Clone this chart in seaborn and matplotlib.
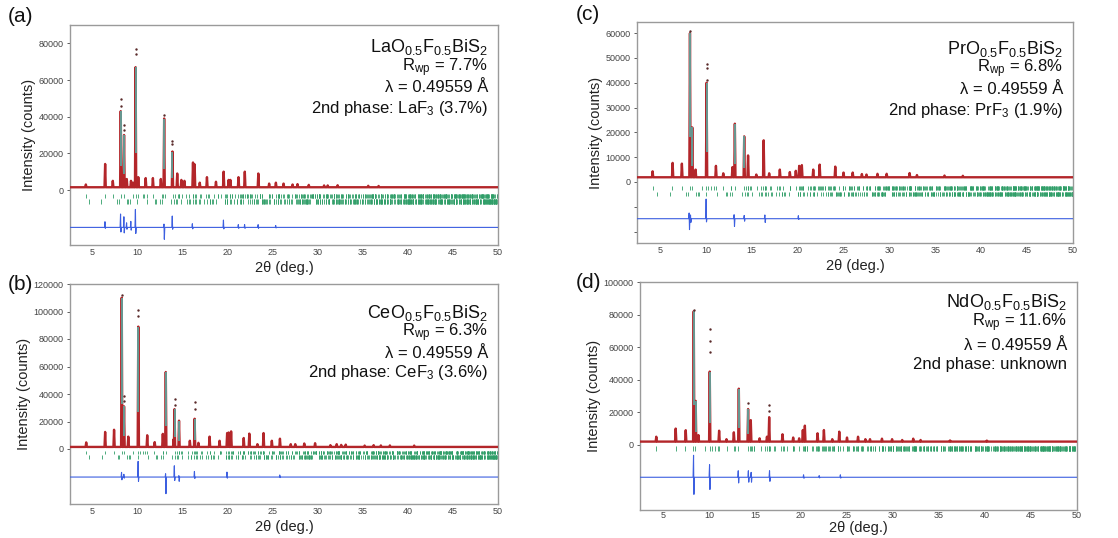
import numpy as np
import pandas as pd
import matplotlib
matplotlib.use("Agg")
import matplotlib.pyplot as plt
import seaborn as sns

sns.set_theme(style="white")
plt.rcParams["font.family"] = ["Liberation Sans", "DejaVu Sans"]
plt.rcParams["mathtext.fontset"] = "custom"
plt.rcParams["mathtext.rm"] = "Liberation Sans"
plt.rcParams["mathtext.default"] = "regular"

WAVELENGTH = 0.49559  # Angstrom

# ---------------- La sample (a) ----------------
la_peak_pos = [4.26, 6.40, 7.25, 8.13, 8.50, 8.80, 9.27, 9.50, 9.78, 10.08, 10.90, 11.70,
               12.58, 12.95, 13.87, 14.40, 14.86, 15.20, 16.15, 16.33, 16.90, 17.70, 18.70,
               19.55, 20.10, 20.30, 21.20, 21.90, 23.40, 24.60, 25.35, 26.20, 27.20, 27.75,
               29.00, 30.70, 31.10, 32.20, 35.60, 36.75]
la_peak_int = [3000, 14200, 5000, 43000, 30000, 6000, 5000, 4000, 67000, 7000, 6500, 6500,
               6000, 39000, 21000, 9000, 5500, 5000, 15000, 14000, 4000, 7000, 4500,
               10000, 5500, 5500, 7000, 10000, 9000, 3500, 4000, 3500, 3000, 3200,
               2800, 2500, 2500, 2600, 2300, 2200]
la_obs_x = [8.13, 8.13, 8.50, 8.50, 9.78, 9.78, 12.95, 13.87, 13.87]
la_obs_y = [49600, 46000, 35500, 33000, 76700, 74000, 41000, 27000, 25000]
la_diff_pos = [6.40, 8.13, 8.50, 8.80, 9.27, 9.78, 12.95, 13.87, 16.10, 19.55, 21.20, 21.90, 23.40, 25.35]
la_diff_up = [3100, 7300, 5800, 2500, 3300, 9800, 1800, 6200, 2000, 4000, 1500, 1500, 1500, 1000]
la_diff_dn = [500, 2500, 3000, 1000, 1500, 3300, 6500, 1000, 800, 800, 500, 500, 500, 300]
la_lattice = (4.08, 13.35)
laf3_lattice = (7.19, 7.35)

# ---------------- Ce sample (b) ----------------
ce_peak_pos = [4.30, 6.40, 7.39, 8.24, 8.50, 8.97, 10.08, 11.07, 11.90, 12.80, 13.13, 14.00,
               14.10, 14.60, 15.80, 16.33, 16.75, 17.99, 19.10, 19.94, 20.10, 20.38, 21.78,
               22.40, 23.30, 23.98, 24.90, 25.80, 27.00, 27.50, 28.50, 29.70, 31.40, 32.10,
               32.60, 33.10, 35.20, 36.20, 37.00, 38.00, 40.70]
ce_peak_int = [4800, 12400, 14000, 110000, 31000, 9000, 89000, 10000, 5000, 11000, 56000, 7000,
               29000, 20600, 6000, 22000, 4500, 9000, 6000, 11600, 12000, 12800, 8000,
               11200, 3500, 11600, 6000, 7500, 3500, 3500, 4000, 4200, 2800, 3500,
               3000, 3200, 2500, 2800, 2600, 2600, 2500]
ce_obs_x = [8.24, 8.50, 8.50, 10.08, 10.08, 14.10, 14.10, 16.33, 16.33]
ce_obs_y = [112000, 38800, 35000, 100800, 97000, 36400, 32000, 34000, 29000]
ce_diff_pos = [8.24, 8.50, 10.08, 13.13, 14.10, 14.60, 16.33, 19.94, 25.80]
ce_diff_up = [3400, 2000, 11400, 2400, 8200, 1000, 4100, 3600, 1500]
ce_diff_dn = [2000, 800, 3100, 12100, 2500, 3100, 1000, 800, 400]
ce_lattice = (4.02, 13.35)
cef3_lattice = (7.13, 7.29)

# ---------------- Pr sample (c) ----------------
pr_peak_pos = [4.20, 6.38, 7.39, 8.27, 8.52, 8.88, 10.08, 11.10, 11.90, 12.90, 13.16, 14.18,
               14.60, 15.50, 16.30, 16.90, 18.06, 19.15, 19.80, 20.17, 20.46, 21.70, 22.40,
               24.10, 25.00, 26.00, 27.00, 27.50, 28.70, 29.70, 32.20, 33.00, 36.00, 38.00]
pr_peak_int = [4300, 7700, 7400, 60000, 22000, 5000, 40000, 6500, 3500, 6000, 23500, 18400,
               10700, 3000, 16800, 3500, 5000, 4000, 4500, 6500, 6800, 5000, 7000,
               6200, 3800, 3800, 3200, 3000, 3300, 3300, 3600, 2800, 2600, 2500]
pr_obs_x = [8.27, 10.08, 10.08, 10.08]
pr_obs_y = [60700, 47500, 46000, 41000]
pr_diff_pos = [8.20, 8.35, 10.05, 13.10, 14.20, 16.45, 20.10]
pr_diff_up = [2300, 1500, 7900, 1600, 1300, 1500, 1200]
pr_diff_dn = [4400, 1500, 1300, 3100, 1000, 1500, 300]
pr_lattice = (4.01, 13.40)
prf3_lattice = (7.08, 7.24)

# ---------------- Nd sample (d) ----------------
nd_peak_pos = [4.27, 6.38, 7.47, 8.34, 8.55, 8.85, 10.08, 11.10, 11.90, 12.70, 13.24, 14.25,
               14.54, 15.50, 16.30, 16.54, 17.99, 19.15, 19.80, 20.20, 20.42, 21.80, 22.49,
               23.40, 24.16, 25.00, 26.20, 27.00, 27.50, 28.80, 29.90, 31.00, 32.20, 33.00,
               36.20, 40.20]
nd_peak_int = [5000, 10000, 9000, 82000, 27000, 6000, 45000, 8700, 3500, 7700, 34500, 22000,
               15200, 4000, 5000, 17000, 6500, 4500, 4000, 9100, 11800, 7100, 9100,
               3500, 8100, 4500, 5000, 3500, 3500, 3800, 3500, 3000, 3800, 3000,
               2700, 2600]
nd_obs_x = [8.34, 10.08, 10.08, 10.08, 14.25, 16.54, 16.54]
nd_obs_y = [82800, 71000, 63900, 56800, 25400, 24300, 21000]
nd_diff_pos = [8.34, 10.08, 13.20, 14.30, 14.60, 16.60, 20.30, 22.00, 24.30]
nd_diff_up = [13500, 7700, 4000, 4000, 3000, 4000, 1500, 1000, 1500]
nd_diff_dn = [10500, 7500, 3500, 3000, 3000, 2500, 600, 400, 500]
nd_lattice = (3.99, 13.40)

panels = [
    dict(tag="(a)", formula=r"LaO$_{0.5}$F$_{0.5}$BiS$_2$", rwp="7.7%",
         phase=r"2nd phase: LaF$_3$ (3.7%)", pos=la_peak_pos, inten=la_peak_int,
         obs_x=la_obs_x, obs_y=la_obs_y, dpos=la_diff_pos, dup=la_diff_up, ddn=la_diff_dn,
         base=1500, diff_base=-20400, tick_rows=[-3300, -6400], tick_half=1300,
         lattices=[("tet", la_lattice), ("hex", laf3_lattice)],
         ylim=(-30000, 90000), yticks=[0, 20000, 40000, 60000, 80000], minor=[],
         box=(70, 25, 498, 245), tagxy=(8, 16), lab_y=[47, 68, 88, 108], xlpad=3, xpad=2),
    dict(tag="(c)", formula=r"PrO$_{0.5}$F$_{0.5}$BiS$_2$", rwp="6.8%",
         phase=r"2nd phase: PrF$_3$ (1.9%)", pos=pr_peak_pos, inten=pr_peak_int,
         obs_x=pr_obs_x, obs_y=pr_obs_y, dpos=pr_diff_pos, dup=pr_diff_up, ddn=pr_diff_dn,
         base=1900, diff_base=-14800, tick_rows=[-2400, -4800], tick_half=900,
         lattices=[("tet", pr_lattice), ("hex", prf3_lattice)],
         ylim=(-24600, 64500), yticks=[0, 10000, 20000, 30000, 40000, 50000, 60000],
         minor=[-10000, -20000],
         box=(637, 22, 1073, 243), tagxy=(576, 14), lab_y=[49, 69, 89, 110], xlpad=3, xpad=2),
    dict(tag="(b)", formula=r"CeO$_{0.5}$F$_{0.5}$BiS$_2$", rwp="6.3%",
         phase=r"2nd phase: CeF$_3$ (3.6%)", pos=ce_peak_pos, inten=ce_peak_int,
         obs_x=ce_obs_x, obs_y=ce_obs_y, dpos=ce_diff_pos, dup=ce_diff_up, ddn=ce_diff_dn,
         base=1500, diff_base=-20400, tick_rows=[-2500, -5800], tick_half=1400,
         lattices=[("tet", ce_lattice), ("hex", cef3_lattice)],
         ylim=(-40000, 120000), yticks=[0, 20000, 40000, 60000, 80000, 100000, 120000],
         minor=[],
         box=(70, 284, 498, 504), tagxy=(8, 285), lab_y=[313, 333, 353, 373], xlpad=3, xpad=2),
    dict(tag="(d)", formula=r"NdO$_{0.5}$F$_{0.5}$BiS$_2$", rwp="11.6%",
         phase="2nd phase: unknown", pos=nd_peak_pos, inten=nd_peak_int,
         obs_x=nd_obs_x, obs_y=nd_obs_y, dpos=nd_diff_pos, dup=nd_diff_up, ddn=nd_diff_dn,
         base=2000, diff_base=-19900, tick_rows=[-2400], tick_half=1400,
         lattices=[("tet", nd_lattice)],
         ylim=(-40000, 100000), yticks=[0, 20000, 40000, 60000, 80000, 100000], minor=[],
         box=(640, 282, 1077, 510), tagxy=(576, 283), lab_y=[302, 323, 345, 365], xlpad=0.5,
         xpad=1),
]

RED = "#b3262a"
TEAL = "#5fa39c"
GREEN = "#2f9e68"
BLUE = "#3c5fe0"
XMIN, XMAX = 2.5, 50.0


def bragg_positions(kind, lattice, tmax=XMAX):
    """2-theta positions of allowed reflections for a tetragonal or hexagonal cell."""
    a, c = lattice
    dmin = WAVELENGTH / (2 * np.sin(np.radians(tmax / 2)))
    hmax = int(a / dmin) + 2
    lmax = int(c / dmin) + 1
    inv_d2 = set()
    for h in range(0, hmax + 1):
        for k in range(0, h + 1):
            for l in range(0, lmax + 1):
                if h == k == 0 and l == 0:
                    continue
                if kind == "tet":
                    if l == 0 and (h + k) % 2:
                        continue
                    q = (h * h + k * k) / a ** 2 + l * l / c ** 2
                else:
                    if h == k == 0 and l % 2:
                        continue
                    q = 4.0 / 3.0 * (h * h + h * k + k * k) / a ** 2 + l * l / c ** 2
                inv_d2.add(round(q, 6))
    d = 1 / np.sqrt(np.array(sorted(inv_d2)))
    s = WAVELENGTH / (2 * d)
    s = s[s < 1]
    tt = 2 * np.degrees(np.arcsin(s))
    return tt[(tt > XMIN) & (tt < XMAX)]


def profile(pos, inten, base, half=0.07):
    xs, ys = [XMIN], [base]
    for p, h in sorted(zip(pos, inten)):
        xs += [p - half, p, p + half]
        ys += [base, h, base]
    xs.append(XMAX)
    ys.append(base)
    return pd.DataFrame({"two_theta": xs, "counts": ys})


def difference(dpos, dup, ddn, base, half=0.07):
    xs, ys = [XMIN], [base]
    for p, u, d in sorted(zip(dpos, dup, ddn)):
        xs += [p - half, p - 0.02, p + 0.02, p + half]
        ys += [base, base + u, base - d, base]
    xs.append(XMAX)
    ys.append(base)
    return pd.DataFrame({"two_theta": xs, "counts": ys})


W, H = 1118, 538
fig = plt.figure(figsize=(W / 100, H / 100), dpi=100)

for pnl in panels:
    x0, y0, x1, y1 = pnl["box"]
    ax = fig.add_axes([x0 / W, 1 - y1 / H, (x1 - x0) / W, (y1 - y0) / H])

    obs = profile(pnl["pos"], pnl["inten"], pnl["base"])
    sns.lineplot(data=obs, x="two_theta", y="counts", sort=False, estimator=None,
                 color=RED, lw=1.7, ax=ax, zorder=3)

    # calculated profile of the strong reflections shows through the sparse points
    tall = [(p, h) for p, h in zip(pnl["pos"], pnl["inten"]) if h > 18000]
    ax.vlines([p for p, _ in tall], [0.3 * h for _, h in tall], [h for _, h in tall],
              colors=TEAL, lw=1.3, zorder=4)
    ax.scatter(pnl["obs_x"], pnl["obs_y"], s=3, color="#5a2a2a", zorder=5, linewidths=0)

    for (kind, latt), row in zip(pnl["lattices"], pnl["tick_rows"]):
        tt = bragg_positions(kind, latt)
        ax.vlines(tt, row - pnl["tick_half"], row + pnl["tick_half"],
                  colors=GREEN, lw=0.6, zorder=2)

    diff = difference(pnl["dpos"], pnl["dup"], pnl["ddn"], pnl["diff_base"])
    sns.lineplot(data=diff, x="two_theta", y="counts", sort=False, estimator=None,
                 color=BLUE, lw=0.8, ax=ax, zorder=3)

    ax.set_xlim(XMIN, XMAX)
    ax.set_ylim(*pnl["ylim"])
    ax.set_xticks(range(5, 51, 5))
    ticks = pnl["yticks"] + pnl["minor"]
    ax.set_yticks(ticks)
    ax.set_yticklabels([str(t) for t in pnl["yticks"]] + [""] * len(pnl["minor"]))
    ax.tick_params(axis="both", labelsize=6.5, colors="#444444", pad=2)
    ax.tick_params(axis="y", length=2.5, width=0.6, direction="out", left=True)
    ax.tick_params(axis="x", length=0, pad=pnl["xpad"])
    for s in ax.spines.values():
        s.set_color("#9a9a9a")
        s.set_linewidth(1.0)
    ax.set_xlabel("2θ (deg.)", fontsize=10.5, color="#222222", labelpad=pnl["xlpad"])
    ax.set_ylabel("Intensity (counts)", fontsize=10.5, color="#222222", labelpad=2)

    lines = [pnl["formula"], r"R$_{wp}$ = " + pnl["rwp"], "λ = 0.49559 Å", pnl["phase"]]
    sizes = [13, 12, 12, 12]
    xr = (x1 - 10 - x0) / (x1 - x0)
    for txt, yy, fs in zip(lines, pnl["lab_y"], sizes):
        ax.text(xr, (y1 - yy) / (y1 - y0), txt, transform=ax.transAxes,
                ha="right", va="center", fontsize=fs, color="#111111", zorder=6)

    tx, ty = pnl["tagxy"]
    fig.text(tx / W, 1 - ty / H, pnl["tag"], fontsize=15, ha="left", va="center",
             color="#111111")

fig.savefig("out.png", dpi=100)
